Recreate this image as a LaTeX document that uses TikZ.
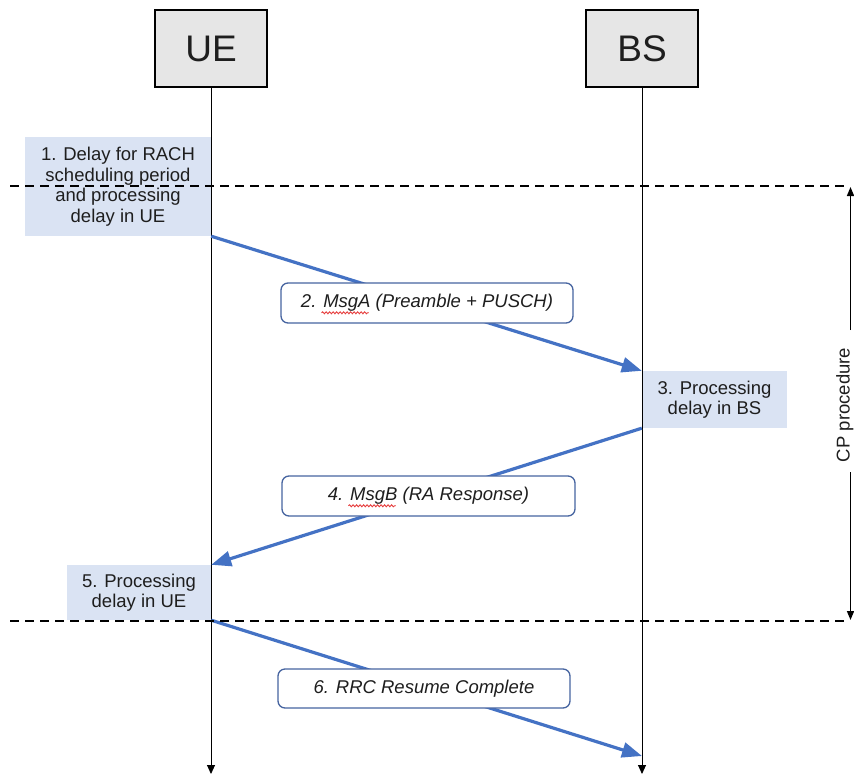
\documentclass[tikz,border=0pt]{standalone}
\usepackage{fontspec}
\setmainfont{Liberation Sans}
\usetikzlibrary{arrows.meta,decorations.pathmorphing}
\definecolor{hdrfill}{RGB}{230,230,230}
\definecolor{delayfill}{RGB}{218,227,243}
\definecolor{msgblue}{RGB}{68,114,196}
\definecolor{msgedge}{RGB}{70,100,160}
\definecolor{txt}{RGB}{30,30,30}
\definecolor{squigred}{RGB}{230,60,60}
\newlength\sqpreA \newlength\sqwordA \newlength\sqtotA
\newlength\sqpreB \newlength\sqwordB \newlength\sqtotB
\newcommand\bodyfont{\fontsize{18.5}{20.5}\selectfont}
\begin{document}
\settowidth\sqtotA{\bodyfont\itshape 2. MsgA (Preamble + PUSCH)}%
\settowidth\sqpreA{\bodyfont\itshape 2.\ }%
\settowidth\sqwordA{\bodyfont\itshape MsgA}%
\settowidth\sqtotB{\bodyfont\itshape 4. MsgB (RA Response)}%
\settowidth\sqpreB{\bodyfont\itshape 4.\ }%
\settowidth\sqwordB{\bodyfont\itshape MsgB}%
\begin{tikzpicture}[x=1pt,y=-1pt,
 hdr/.style={draw=black,line width=1.1pt,fill=hdrfill,minimum width=112pt,minimum height=77pt,inner sep=0pt,font=\fontsize{37}{40}\selectfont,text=txt},
 delay/.style={fill=delayfill,inner sep=0pt,align=center,font=\bodyfont,text=txt},
 msg/.style={draw=msgedge,line width=1.3pt,fill=white,rounded corners=7pt,inner sep=0pt,font=\bodyfont\itshape,text=txt},
 life/.style={draw=black,line width=0.9pt,-{Triangle[length=9pt,width=8pt]}},
 flow/.style={draw=msgblue,line width=3.2pt,-{Triangle[length=20pt,width=15pt]}},
 sep/.style={draw=black,line width=1.6pt,dash pattern=on 9pt off 6pt},
 cparr/.style={draw=black,line width=1.6pt,-{Triangle[length=9pt,width=7pt]}},
 squig/.style={draw=squigred,line width=0.9pt,decorate,decoration={snake,amplitude=1pt,segment length=3.5pt}}
]
\useasboundingbox (0,0) rectangle (854,774);

% header boxes
\node[hdr] (UE) at (211,48.5) {UE};
\node[hdr] (BS) at (642,48.5) {BS};

% delay boxes
\node[delay,minimum width=186pt,minimum height=99pt] (d1) at (118,186.5)
  {1. Delay for RACH\\scheduling period\\and processing\\delay in UE};
\node[delay,minimum width=145pt,minimum height=57pt] (d3) at (714.5,399.5)
  {3. Processing\\delay in BS};
\node[delay,minimum width=144pt,minimum height=55pt] (d5) at (139,592.5)
  {5. Processing\\delay in UE};

% lifelines
\coordinate (ueend) at (211,774);
\coordinate (bsend) at (642,774);
\draw[life] (UE.south) -- (ueend);
\draw[life] (BS.south) -- (bsend);

% message flows
\coordinate (f3end) at (642,756);
\draw[flow] (d1.south east) -- (d3.north west);
\draw[flow] (d3.south west) -- (d5.north east);
\draw[flow] (d5.south east) -- (f3end);

% message boxes
\node[msg,minimum width=292pt,minimum height=40pt] (mA) at (427,303) {2. MsgA (Preamble + PUSCH)};
\node[msg,minimum width=293pt,minimum height=40pt] (mB) at (428.5,496) {4. MsgB (RA Response)};
\node[msg,minimum width=292pt,minimum height=39pt] (m6) at (424,688.5) {6. RRC Resume Complete};

% spell-check squiggles
\coordinate (qa) at ([xshift=\sqpreA-0.5\sqtotA,yshift=-5pt]mA.base);
\coordinate (qae) at ([xshift=\sqwordA]qa);
\draw[squig] (qa) -- (qae);
\coordinate (qb) at ([xshift=\sqpreB-0.5\sqtotB,yshift=-5pt]mB.base);
\coordinate (qbe) at ([xshift=\sqwordB]qb);
\draw[squig] (qb) -- (qbe);

% dashed separators
\coordinate (s1l) at (10,186); \coordinate (s1r) at (846,186);
\coordinate (s2l) at (10,621); \coordinate (s2r) at (846,621);
\draw[sep] (s1l) -- (s1r);
\draw[sep] (s2l) -- (s2r);

% CP procedure span
\coordinate (cptop) at (850.5,187);
\coordinate (cpA) at (850.5,330);
\coordinate (cpB) at (850.5,472);
\coordinate (cpbot) at (850.5,620);
\draw[cparr] (cpA) -- (cptop);
\draw[cparr] (cpB) -- (cpbot);
\node[rotate=90,anchor=base,font=\bodyfont,text=txt,inner sep=0pt] (cp) at (849.5,405) {CP procedure};
\end{tikzpicture}
\end{document}
